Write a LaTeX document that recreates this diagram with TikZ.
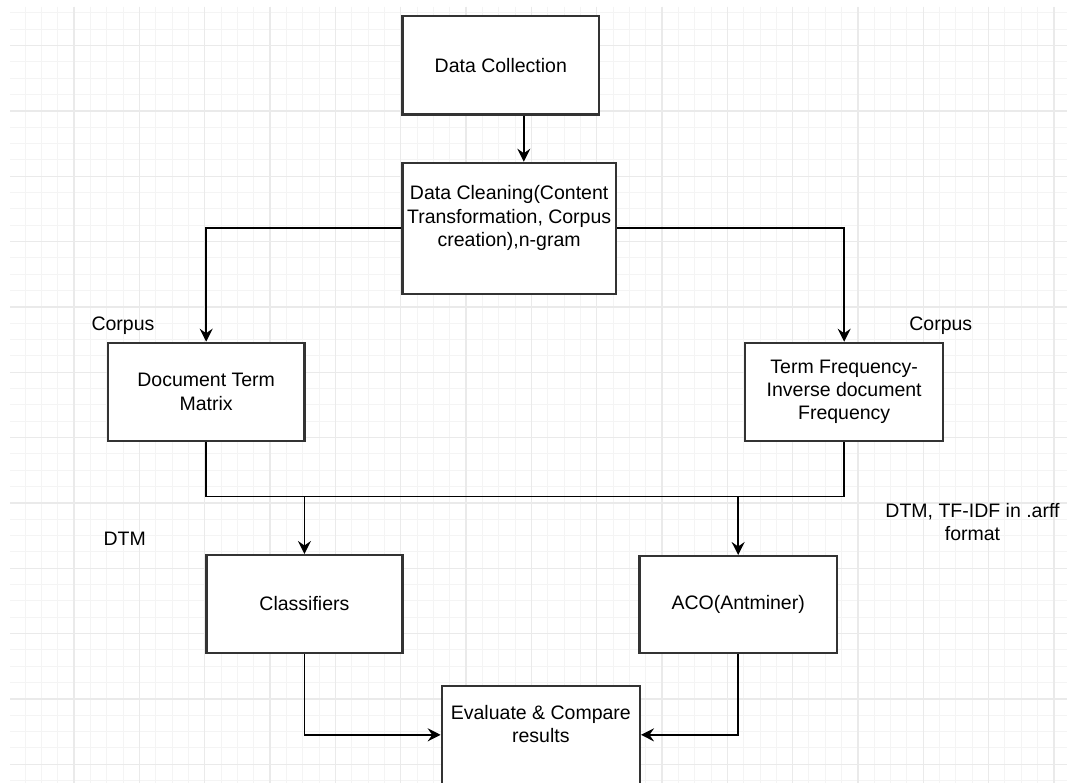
\documentclass[tikz,border=0pt]{standalone}
\usepackage{fontspec}
\setmainfont{Liberation Sans}
\usetikzlibrary{arrows.meta}
\definecolor{boxc}{RGB}{51,51,51}
\definecolor{gridminor}{RGB}{244,244,244}
\definecolor{gridmajor}{RGB}{234,234,234}
\begin{document}
\begin{tikzpicture}[x=1pt,y=-1pt,
  box/.style={draw=boxc, line width=2.3pt, fill=white, inner sep=0pt, anchor=north west},
  txt/.style={align=center, font=\fontsize{19.5}{23.3}\selectfont, text=black},
  lbl/.style={align=center, font=\fontsize{19.5}{22.6}\selectfont, text=black, inner sep=0pt},
  conn/.style={line width=1.9pt, draw=black, -{Stealth[length=13pt,width=13pt,inset=4.5pt]}}
]
\useasboundingbox (0,0) rectangle (1067,783);
\fill[white] (0,0) rectangle (1067,783);
% grid
\begin{scope}
\clip (10,7) rectangle (1067,783);
\foreach \k in {0,...,64} \draw[gridminor, line width=1pt] ({8.67+16.333*\k},7) -- ({8.67+16.333*\k},783);
\foreach \k in {0,...,47} \draw[gridminor, line width=1pt] (10,{13+16.333*\k}) -- (1067,{13+16.333*\k});
\foreach \k in {0,4,...,64} \draw[gridmajor, line width=1.2pt] ({8.67+16.333*\k},7) -- ({8.67+16.333*\k},783);
\foreach \k in {2,6,...,46} \draw[gridmajor, line width=1.2pt] (10,{13+16.333*\k}) -- (1067,{13+16.333*\k});
\end{scope}
% boxes
\node[box, minimum width=196.7pt, minimum height=98.6pt,
  label={[txt]center:Data Collection}] (dc) at (401.3,14.7) {};
\node[box, minimum width=213.4pt, minimum height=131pt,
  label={[txt, yshift=10.3pt]center:Data Cleaning(Content\\Transformation, Corpus\\creation),n-gram}] (clean) at (401.3,161.7) {};
\node[box, minimum width=196.6pt, minimum height=98.3pt,
  label={[txt]center:Document Term\\Matrix}] (dtm) at (106.7,341.7) {};
\node[box, minimum width=198pt, minimum height=98.3pt,
  label={[txt]center:Term Frequency-\\Inverse document\\Frequency}] (tfidf) at (744,341.7) {};
\node[box, minimum width=196pt, minimum height=97.7pt,
  label={[txt]center:Classifiers}] (cls) at (205.3,554) {};
\node[box, minimum width=197.4pt, minimum height=97pt,
  label={[txt]center:ACO(Antminer)}] (aco) at (638.3,555) {};
\node[box, minimum width=198pt, minimum height=98pt,
  label={[txt, yshift=11pt]center:Evaluate \& Compare\\results}] (eval) at (440.7,684.7) {};
% free labels
\node[lbl] (corpusL) at (123,326) {Corpus};
\node[lbl] (corpusR) at (940.8,326) {Corpus};
\node[lbl] (dtmL) at (124.7,538.7) {DTM};
\node[lbl] (arff) at (972.5,522) {DTM, TF-IDF in .arff\\format};
% connectors
\coordinate (bus) at (0,496.5);
\draw[conn] ([xshift=23pt]dc.south) -- ([xshift=23pt]dc.south |- clean.north);
\draw[conn] (clean.west) -| (dtm.north);
\draw[conn] (clean.east) -| (tfidf.north);
\draw[conn] (dtm.south) -- (dtm.south |- bus) -| (aco.north);
\draw[conn] (tfidf.south) -- (tfidf.south |- bus) -| (cls.north);
\draw[conn] (cls.south) |- (eval.west);
\draw[conn] (aco.south) |- (eval.east);
\end{tikzpicture}
\end{document}
